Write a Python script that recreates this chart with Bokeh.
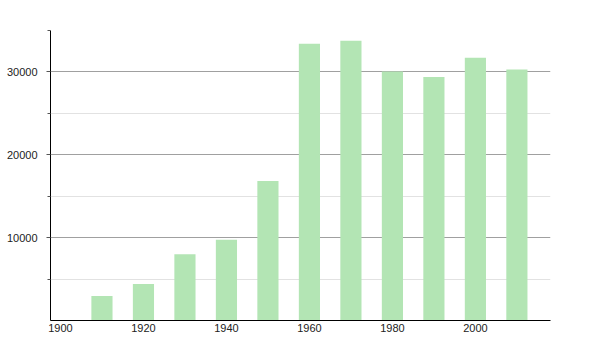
from bokeh.plotting import figure
from bokeh.models import FixedTicker, Range1d
from bokeh.embed import file_html
from bokeh.resources import INLINE

years = [1910, 1920, 1930, 1940, 1950, 1960, 1970, 1980, 1990, 2000, 2010]
population = [2950, 4400, 8000, 9750, 16850, 33400, 33750, 30050, 29400, 31700, 30300]
x_ticks = [1900, 1920, 1940, 1960, 1980, 2000]
y_ticks = [10000, 20000, 30000]
y_minor = [5000, 15000, 25000, 35000]

p = figure(width=600, height=350, output_backend="svg", toolbar_location=None,
           x_range=Range1d(1897.6, 2018.1), y_range=Range1d(0, 35000),
           min_border_left=50, min_border_right=50, min_border_top=30, min_border_bottom=30)
p.outline_line_color = None
p.background_fill_color = "white"
p.border_fill_color = "white"

p.vbar(x=years, top=population, width=5.1, fill_color="#b3e5b4", line_color=None)

p.xaxis.ticker = FixedTicker(ticks=x_ticks)
p.yaxis.ticker = FixedTicker(ticks=y_ticks, minor_ticks=y_minor)
p.xgrid.visible = False
p.ygrid.grid_line_color = "#a0a0a0"
p.ygrid.grid_line_width = 1
p.ygrid.minor_grid_line_color = "#e2e2e2"
p.ygrid.minor_grid_line_width = 1
p.ygrid.level = "underlay"

for ax in (p.xaxis, p.yaxis):
    ax.axis_line_color = "black"
    ax.axis_line_width = 1
    ax.major_label_text_font = "Liberation Sans"
    ax.major_label_text_font_size = "11px"
    ax.major_label_text_color = "#222222"
p.xaxis.major_tick_out = 0
p.xaxis.major_tick_in = 0
p.xaxis.minor_tick_out = 0
p.xaxis.minor_tick_in = 0
p.xaxis.major_label_standoff = 3
p.yaxis.major_tick_out = 4
p.yaxis.major_tick_in = 0
p.yaxis.minor_tick_out = 3
p.yaxis.minor_tick_in = 0
p.yaxis.major_tick_line_color = "#555555"
p.yaxis.minor_tick_line_color = "#555555"
p.yaxis.major_label_standoff = 9

open("out.html", "w").write(file_html(p, INLINE))
